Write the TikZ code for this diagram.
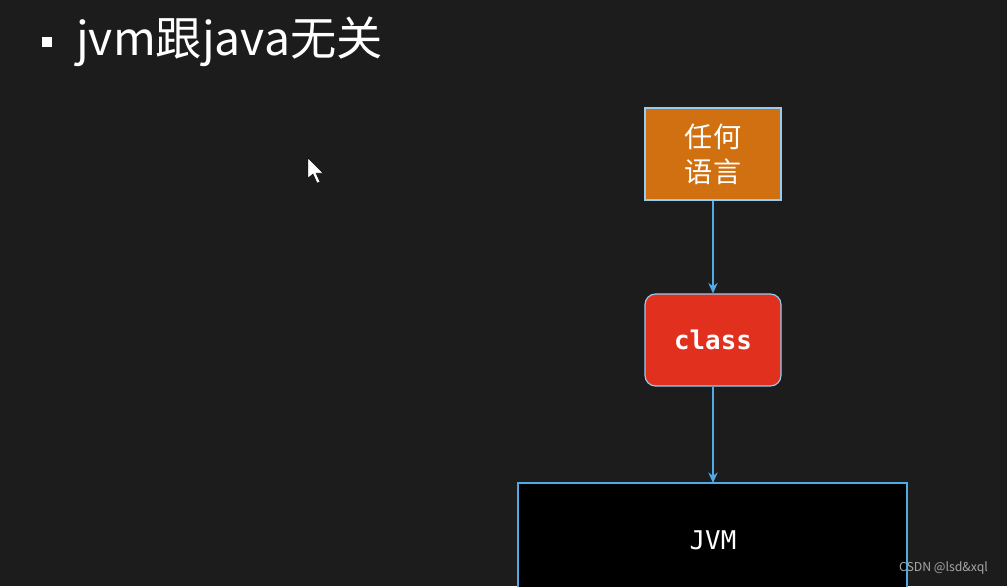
\documentclass[tikz,border=0pt]{standalone}
\usepackage{fontspec}
\setmainfont{Noto Sans CJK SC}
\newfontfamily\cjk{Noto Sans CJK SC}
\newfontfamily\mono{DejaVu Sans Mono}
\usetikzlibrary{arrows.meta}
\definecolor{bg}{RGB}{28,28,28}
\definecolor{orangebox}{RGB}{208,112,16}
\definecolor{redbox}{RGB}{226,48,30}
\definecolor{arrowblue}{RGB}{80,170,230}
\newlength\pxu \setlength\pxu{0.03cm}
\tikzset{
  box/.style={minimum width=136\pxu, minimum height=92\pxu, draw=arrowblue!60!white, line width=1pt, text=white, inner sep=0pt},
  conn/.style={draw=arrowblue, line width=1.2pt, -{Stealth[length=9pt,width=8pt]}}
}
\begin{document}
\begin{tikzpicture}[x=0.03cm,y=-0.03cm]
\fill[bg] (0,0) rectangle (1007,586);
\useasboundingbox (0,0) rectangle (1007,586);
% title
\fill[white] (42,37) rectangle (52,47);
\node[anchor=west, text=white, font=\cjk\fontsize{39.5}{44}\selectfont, inner sep=0pt] (title) at (76,42) {jvm跟java无关};
% cursor
\fill[white,draw=black,line width=0.4pt] (308,158) -- (308,178) -- (313,174) -- (317,183) -- (320,182) -- (316,173) -- (323,173) -- cycle;
% boxes
\node[box, fill=orangebox, align=center, font=\cjk\fontsize{24}{30}\selectfont] (lang) at (713,154) {任何\\语言};
\node[box, fill=redbox, rounded corners=9pt, font=\mono\bfseries\fontsize{22}{26}\selectfont] (cls) at (713,340) {class};
\draw[arrowblue, line width=1pt, fill=black] (518,483) rectangle (907,600);
\node[text=white, font=\mono\fontsize{22}{26}\selectfont] (jvm) at (713,540) {JVM};
\coordinate (jvmtop) at (713,483);
\draw[conn] (lang.south) -- (cls.north);
\draw[conn] (cls.south) -- (jvmtop);
\node[anchor=east, text=gray!70, font=\cjk\fontsize{10.5}{12}\selectfont] (wm) at (992,568) {CSDN @lsd\&xql};
\end{tikzpicture}
\end{document}
